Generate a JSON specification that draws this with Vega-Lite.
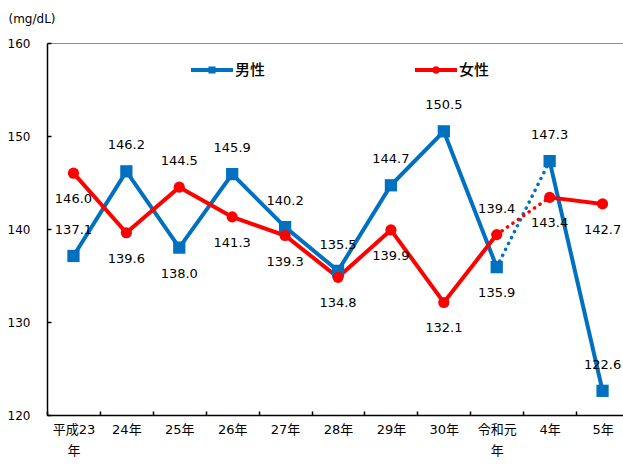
{
  "$schema": "https://vega.github.io/schema/vega-lite/v6.json",
  "width": 582,
  "height": 372,
  "autosize": "none",
  "padding": {"left": 47, "top": 43, "right": 0, "bottom": 49},
  "config": {
    "view": {"stroke": "#8c8c8c", "strokeWidth": 1},
    "font": "DejaVu Sans, Noto Sans CJK JP",
    "legend": {"padding": 0}
  },
  "data": {
    "values": [
      {"year": "平成23年", "sex": "男性", "value": 137.1},
      {"year": "24年", "sex": "男性", "value": 146.2},
      {"year": "25年", "sex": "男性", "value": 138.0},
      {"year": "26年", "sex": "男性", "value": 145.9},
      {"year": "27年", "sex": "男性", "value": 140.2},
      {"year": "28年", "sex": "男性", "value": 135.5},
      {"year": "29年", "sex": "男性", "value": 144.7},
      {"year": "30年", "sex": "男性", "value": 150.5},
      {"year": "令和元年", "sex": "男性", "value": 135.9},
      {"year": "4年", "sex": "男性", "value": 147.3},
      {"year": "5年", "sex": "男性", "value": 122.6},
      {"year": "平成23年", "sex": "女性", "value": 146.0},
      {"year": "24年", "sex": "女性", "value": 139.6},
      {"year": "25年", "sex": "女性", "value": 144.5},
      {"year": "26年", "sex": "女性", "value": 141.3},
      {"year": "27年", "sex": "女性", "value": 139.3},
      {"year": "28年", "sex": "女性", "value": 134.8},
      {"year": "29年", "sex": "女性", "value": 139.9},
      {"year": "30年", "sex": "女性", "value": 132.1},
      {"year": "令和元年", "sex": "女性", "value": 139.4},
      {"year": "4年", "sex": "女性", "value": 143.4},
      {"year": "5年", "sex": "女性", "value": 142.7}
    ]
  },
  "encoding": {
    "x": {
      "field": "year",
      "type": "nominal",
      "sort": ["平成23年", "24年", "25年", "26年", "27年", "28年", "29年", "30年", "令和元年", "4年", "5年"],
      "scale": {"type": "band", "paddingInner": 0, "paddingOuter": 0},
      "axis": {
        "title": null,
        "labelAngle": 0,
        "labelFont": "DejaVu Sans, Noto Sans CJK JP",
        "labelFontSize": 13,
        "labelColor": "#000000",
        "labelPadding": 12,
        "labelLineHeight": 21,
        "labelExpr": "datum.value == '平成23年' ? ['平成23', '年'] : datum.value == '令和元年' ? ['令和元', '年'] : datum.value",
        "tickBand": "extent",
        "tickSize": -4,
        "tickColor": "#000000",
        "tickWidth": 1.5,
        "domainColor": "#000000",
        "domainWidth": 1.5,
        "grid": false
      }
    },
    "y": {
      "field": "value",
      "type": "quantitative",
      "scale": {"domain": [120, 160], "nice": false, "zero": false},
      "axis": {
        "title": "(mg/dL)",
        "titleAngle": 0,
        "titleAlign": "left",
        "titleBaseline": "middle",
        "titleX": -39,
        "titleY": -25,
        "titleFont": "DejaVu Sans",
        "titleFontSize": 12,
        "titleFontWeight": "normal",
        "titleColor": "#000000",
        "values": [120, 130, 140, 150, 160],
        "labelFont": "DejaVu Sans",
        "labelFontSize": 12,
        "labelColor": "#000000",
        "labelPadding": 21,
        "tickSize": -4,
        "tickColor": "#000000",
        "tickWidth": 1.5,
        "domainColor": "#000000",
        "domainWidth": 1.5,
        "grid": false
      }
    }
  },
  "layer": [
    {
      "transform": [{"filter": {"field": "year", "oneOf": ["平成23年", "24年", "25年", "26年", "27年", "28年", "29年", "30年", "令和元年"]}}],
      "mark": {"type": "line", "strokeWidth": 4},
      "encoding": {
        "color": {
          "field": "sex",
          "type": "nominal",
          "scale": {"domain": ["男性", "女性"], "range": ["#0070C0", "#FF0000"]},
          "legend": {
            "title": null,
            "orient": "none",
            "legendX": 144,
            "legendY": 6,
            "direction": "horizontal",
            "symbolSize": 1764,
            "symbolStrokeWidth": 0,
            "labelFont": "Noto Sans CJK JP",
            "labelFontSize": 15,
            "labelFontWeight": 500,
            "labelColor": "#000000",
            "labelOffset": 2,
            "columnPadding": 149,
            "encode": {
              "symbols": {
                "update": {
                  "shape": {"signal": "datum.value === '男性' ? 'M-1,-0.095H1V0.095H-1Z M-0.17,-0.17H0.17V0.17H-0.17Z' : 'M-1,-0.095H1V0.095H-1Z M-0.18,0A0.18,0.18 0 1,1 0.18,0A0.18,0.18 0 1,1 -0.18,0Z'"},
                  "fill": {"signal": "datum.value === '男性' ? '#0070C0' : '#FF0000'"},
                  "fillOpacity": {"value": 1},
                  "strokeWidth": {"value": 0}
                }
              }
            }
          }
        }
      }
    },
    {
      "transform": [{"filter": {"field": "year", "oneOf": ["4年", "5年"]}}],
      "mark": {"type": "line", "strokeWidth": 4},
      "encoding": {
        "color": {
          "field": "sex",
          "type": "nominal",
          "scale": {"domain": ["男性", "女性"], "range": ["#0070C0", "#FF0000"]},
          "legend": null
        }
      }
    },
    {
      "transform": [{"filter": {"field": "year", "oneOf": ["令和元年", "4年"]}}],
      "mark": {"type": "line", "strokeWidth": 3.5, "strokeDash": [0.1, 6.5], "strokeCap": "round"},
      "encoding": {
        "color": {
          "field": "sex",
          "type": "nominal",
          "scale": {"domain": ["男性", "女性"], "range": ["#0070C0", "#FF0000"]},
          "legend": null
        }
      }
    },
    {
      "transform": [{"filter": "datum.sex === '男性'"}],
      "mark": {"type": "point", "shape": "square", "filled": true, "size": 150, "opacity": 1, "color": "#0070C0"}
    },
    {
      "transform": [{"filter": "datum.sex === '女性'"}],
      "mark": {"type": "point", "shape": "circle", "filled": true, "size": 125, "opacity": 1, "color": "#FF0000"}
    },
    {
      "transform": [{"filter": "(datum.sex === '男性') !== (datum.year === '25年' || datum.year === '令和元年')"}],
      "mark": {"type": "text", "dy": -26, "font": "DejaVu Sans", "fontSize": 13, "color": "#000000", "baseline": "middle", "align": "center"},
      "encoding": {"text": {"field": "value", "type": "quantitative", "format": ".1f"}}
    },
    {
      "transform": [{"filter": "(datum.sex === '男性') === (datum.year === '25年' || datum.year === '令和元年')"}],
      "mark": {"type": "text", "dy": 26, "font": "DejaVu Sans", "fontSize": 13, "color": "#000000", "baseline": "middle", "align": "center"},
      "encoding": {"text": {"field": "value", "type": "quantitative", "format": ".1f"}}
    }
  ]
}
